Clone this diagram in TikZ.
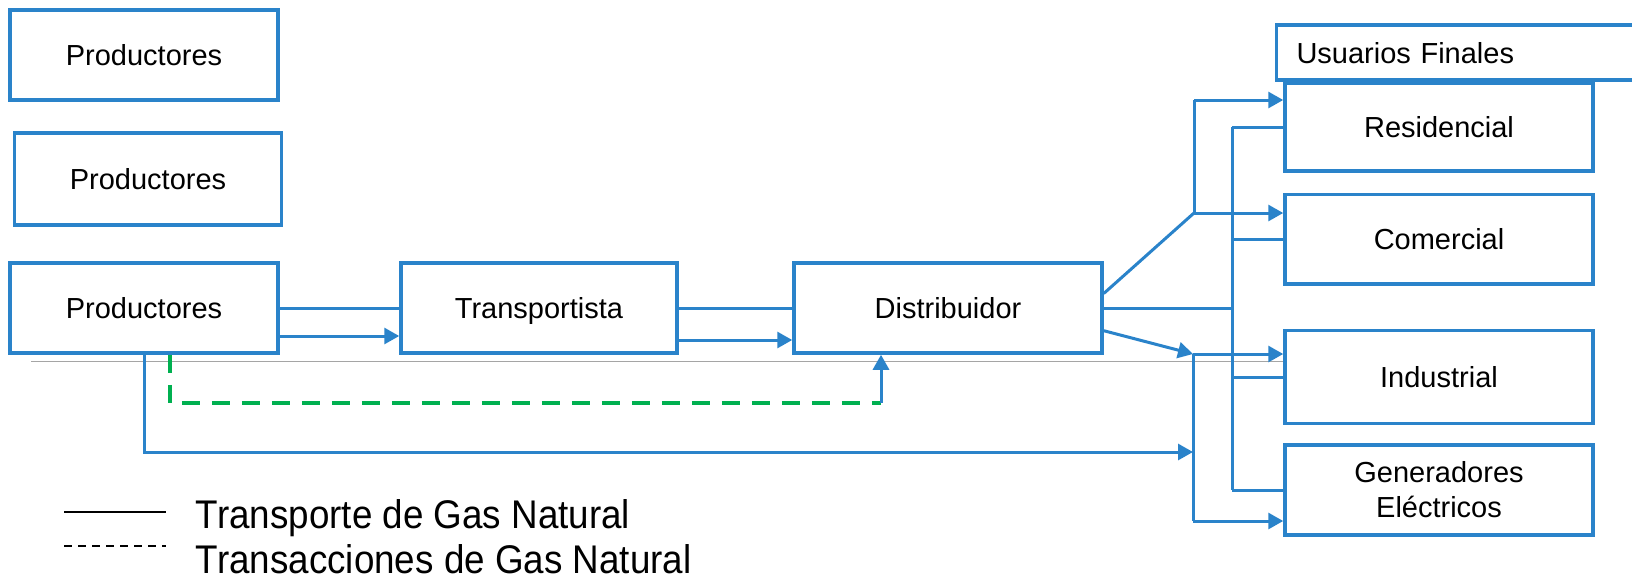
\documentclass[tikz,border=0pt]{standalone}
\usepackage{fontspec}
\setmainfont{Liberation Sans}
\newfontfamily\leyendafont[FakeStretch=0.92]{Liberation Sans}
\usetikzlibrary{arrows.meta}
\definecolor{azulgas}{RGB}{42,131,202}
\definecolor{verdegas}{RGB}{0,176,80}
\definecolor{grislinea}{RGB}{165,165,165}

\begin{document}
\begin{tikzpicture}[x=0.5pt, y=-0.5pt]
       \tikzstyle{every node}=[font=\fontsize{14.5}{17.5}\selectfont]
       \tikzstyle{caja}=[draw=azulgas, line width=1.75pt, fill=white, inner sep=0pt, align=center]
       \tikzstyle{una}=[text height=10.5pt, text depth=0pt]
       \tikzstyle{flujo}=[draw=azulgas, line width=1.5pt]
       \tikzstyle{flecha}=[flujo, -{Triangle[length=7.5pt,width=8pt]}]
       \tikzstyle{tramite}=[draw=verdegas, line width=1.65pt, dash pattern=on 9pt off 6pt]
   \useasboundingbox (0,0) rectangle (1632,579);

% linea de referencia
   \draw[grislinea, line width=0.85pt] (31,361.5) -- (1285,361.5);

% Productores
   \node[caja, una, minimum width=134pt, minimum height=45pt] (prodA) at (144,55) {Productores};
   \node[caja, una, minimum width=133.5pt, minimum height=46pt] (prodB) at (148,179) {Productores};
   \node[caja, una, minimum width=134pt, minimum height=45pt] (prodC) at (144,308) {Productores};

% Transportista y Distribuidor
   \node[caja, una, minimum width=138pt, minimum height=45pt] (transp) at (539,308) {Transportista};
   \node[caja, una, minimum width=154pt, minimum height=45pt] (dist) at (948,308) {Distribuidor};

% Usuarios Finales
   \node[caja, una, minimum height=27.5pt, text width=201.5pt, inner xsep=10pt, align=left] (usuarios) at (1498,52.5) {Usuarios Finales};
   \node[caja, una, minimum width=154pt, minimum height=44pt] (res) at (1439,127) {Residencial};
   \node[caja, una, minimum width=154pt, minimum height=44.75pt] (com) at (1439,239) {Comercial};
   \node[caja, una, minimum width=154pt, minimum height=46.3pt] (ind) at (1439,377) {Industrial};
   \node[caja, minimum width=154pt, minimum height=45pt] (gen) at (1439,490) {Generadores\\Eléctricos};

% puntos de reparto
   \coordinate (ramaA) at (1194,100);
   \coordinate (ramaB) at (1194,213);
   \coordinate (ramaC) at (1193,354);
   \coordinate (ramaD) at (1193,521);
   \coordinate (ramaE) at (1193,452);
   \coordinate (barra) at (1232,0);
   \coordinate (giro) at (881,403);

% Productores -> Transportista -> Distribuidor
   \draw[flujo] (prodC.east) -- (transp.west);
   \draw[flecha] ([yshift=-14pt]prodC.east) -- ([yshift=-14pt]transp.west);
   \draw[flujo] (transp.east) -- (dist.west);
   \draw[flecha] ([yshift=-16pt]transp.east) -- ([yshift=-16pt]dist.west);

% transacciones Productores -> Distribuidor
   \draw[tramite] ([xshift=13pt]prodC.south) |- (giro);
   \draw[flecha] (giro) -- (giro |- dist.south);

% Productores -> Generadores
   \draw[flecha] (prodC.south) |- (ramaE);

% Distribuidor -> Usuarios
   \draw[flujo] ([yshift=7.25pt]dist.east) -- (ramaB);
   \draw[flujo] (ramaA) -- (ramaB);
   \draw[flecha] (ramaA) -- (ramaA -| res.west);
   \draw[flecha] (ramaB) -- (ramaB -| com.west);
   \draw[flecha] ([yshift=-11.35pt]dist.east) -- (ramaC);
   \draw[flujo] (ramaC) -- (ramaD);
   \draw[flecha] (ramaC) -- (ramaC -| ind.west);
   \draw[flecha] (ramaD) -- (ramaD -| gen.west);
   \draw[flujo] (dist.east) -- (dist.east -| barra);
   \draw[flujo] (res.west -| barra) -- (gen.west -| barra);
   \foreach \u in {res,com,ind,gen}
      \draw[flujo] (\u.west -| barra) -- (\u.west);

% leyenda
   \coordinate (muestraA0) at (64,512);
   \coordinate (muestraA1) at (166,512);
   \coordinate (muestraB0) at (64,546);
   \coordinate (muestraB1) at (166,546);
   \draw[black, line width=1pt] (muestraA0) -- (muestraA1);
   \draw[black, line width=1pt, dash pattern=on 4pt off 3pt] (muestraB0) -- (muestraB1);
   \node[anchor=base west, inner sep=0pt, font=\leyendafont\fontsize{20}{24}\selectfont] (leyTransp) at (195.5,528) {Transporte de Gas Natural};
   \node[anchor=base west, inner sep=0pt, font=\leyendafont\fontsize{20}{24}\selectfont] (leyTrans) at (195.5,573) {Transacciones de Gas Natural};

\end{tikzpicture}
\end{document}
